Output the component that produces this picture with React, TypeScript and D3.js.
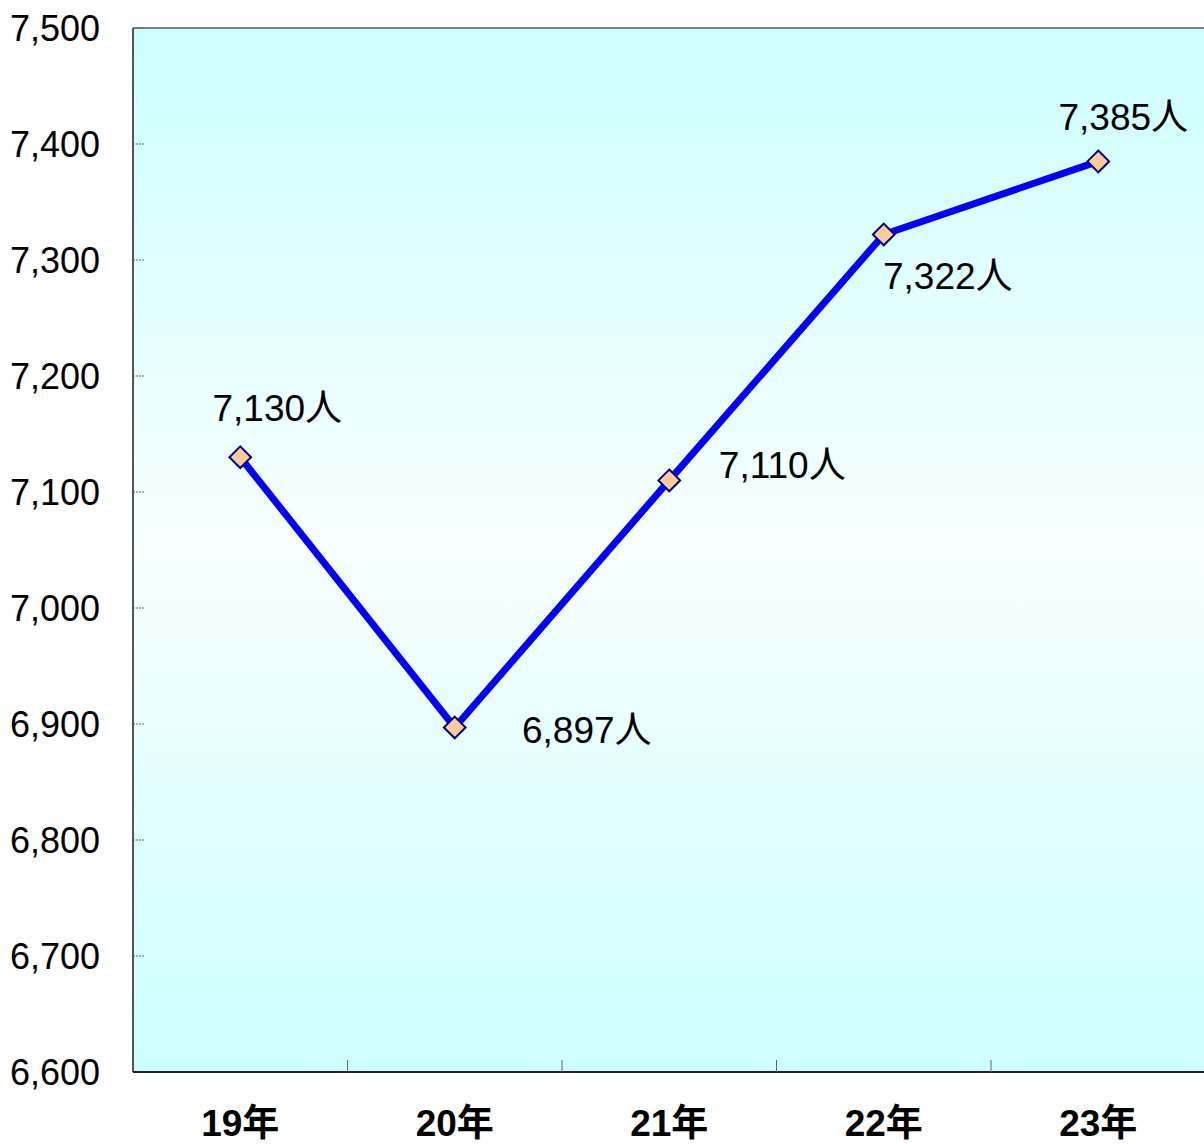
import React from "react";
import * as d3 from "d3";

const categories = ["19年", "20年", "21年", "22年", "23年"];
const values = [7130, 6897, 7110, 7322, 7385];
const valueLabels = ["7,130人", "6,897人", "7,110人", "7,322人", "7,385人"];
const yTicks = [6600, 6700, 6800, 6900, 7000, 7100, 7200, 7300, 7400, 7500];
// label offsets relative to point (dx, dy to baseline)
const labelOffsets: [number, number][] = [
  [37, -36],
  [132, 16],
  [113, -2],
  [64, 55],
  [25, -31],
];

const W = 1204;
const H = 1144;
const left = 133;
const top = 28;
const right = 1205.5;
const bottom = 1072;
const FONT = "'Liberation Sans', Arial, 'Noto Sans CJK JP', sans-serif";

export default function App() {
  const x = d3.scaleBand<string>().domain(categories).range([left, right]);
  const y = d3.scaleLinear().domain([6600, 7500]).range([bottom, top]);
  const cx = (c: string) => (x(c) as number) + x.bandwidth() / 2;
  const line = d3
    .line<number>()
    .x((_, i) => cx(categories[i]))
    .y((d) => y(d));
  const diamond = d3.symbol().type(d3.symbolDiamond2).size(300)() as string;

  return (
    <svg
      width={W}
      height={H}
      style={{ position: "absolute", left: 0, top: 0, background: "#fff" }}
      fontFamily={FONT}
    >
      <defs>
        <linearGradient id="bg" x1="0" y1="0" x2="0" y2="1">
          <stop offset="0" stopColor="#ccffff" />
          <stop offset="0.5" stopColor="#f8ffff" />
          <stop offset="1" stopColor="#ccffff" />
        </linearGradient>
      </defs>
      <rect x={left} y={top} width={right - left} height={bottom - top} fill="url(#bg)" />
      {/* borders */}
      <line x1={left} x2={W} y1={top} y2={top} stroke="#808080" strokeWidth={2} />
      <line x1={left} x2={left} y1={top} y2={bottom} stroke="#555" strokeWidth={2} />
      <line x1={left} x2={W} y1={bottom} y2={bottom} stroke="#222" strokeWidth={2} />
      {/* y ticks */}
      {yTicks.map((t) => (
        <g key={t}>
          {t !== 6600 && (
            <line
              x1={left}
              x2={left + 12}
              y1={y(t)}
              y2={y(t)}
              stroke="#666"
              strokeWidth={1}
              strokeDasharray="2,1"
            />
          )}
          <text
            x={100}
            y={y(t)}
            textAnchor="end"
            dominantBaseline="central"
            fontSize={36}
            fill="#000"
          >
            {d3.format(",")(t)}
          </text>
        </g>
      ))}
      {/* x ticks at category boundaries */}
      {categories.slice(1).map((c) => (
        <line
          key={c}
          x1={x(c)}
          x2={x(c)}
          y1={bottom}
          y2={bottom - 12}
          stroke="#666"
          strokeWidth={1}
        />
      ))}
      {categories.map((c) => (
        <text
          key={c}
          x={cx(c)}
          y={1136}
          textAnchor="middle"
          fontSize={37}
          fontWeight="bold"
          fill="#000"
        >
          {c}
        </text>
      ))}
      <path d={line(values) as string} fill="none" stroke="#0000ff" strokeWidth={7} strokeLinejoin="round" />
      {values.map((v, i) => (
        <path
          key={i}
          d={diamond}
          transform={`translate(${cx(categories[i])},${y(v)})`}
          fill="#ffcc99"
          stroke="#000080"
          strokeWidth={2}
        />
      ))}
      {values.map((v, i) => (
        <text
          key={i}
          x={cx(categories[i]) + labelOffsets[i][0]}
          y={y(v) + labelOffsets[i][1]}
          textAnchor="middle"
          fontSize={37}
          fill="#000"
        >
          {valueLabels[i]}
        </text>
      ))}
    </svg>
  );
}
